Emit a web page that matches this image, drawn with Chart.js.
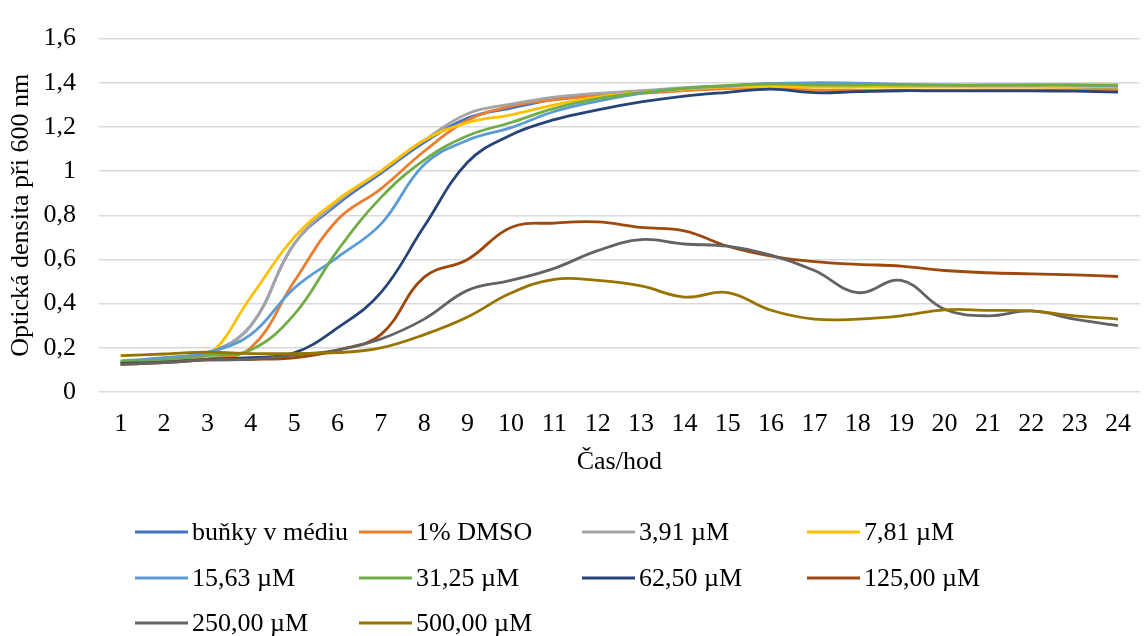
<!DOCTYPE html>
<html lang="cs">
<head>
<meta charset="utf-8">
<title>Růstové křivky</title>
<script src="https://cdn.jsdelivr.net/npm/chart.js@4.4.1/dist/chart.umd.min.js"></script>
<style>
  html, body { margin: 0; padding: 0; background: #ffffff; }
  #wrap { width: 1148px; height: 636px; }
</style>
</head>
<body>
<div id="wrap"><canvas id="growth" width="1148" height="636"></canvas></div>
<script>
// Hodiny měření
const hours = ['1','2','3','4','5','6','7','8','9','10','11','12','13','14','15','16','17','18','19','20','21','22','23','24'];

// Optická densita (OD600) pro jednotlivé podmínky
const cellsInMedium = [0.135,0.150,0.175,0.300,0.670,0.850,0.990,1.130,1.240,1.285,1.325,1.345,1.360,1.375,1.385,1.395,1.393,1.395,1.385,1.383,1.382,1.382,1.380,1.375];
const dmso1 = [0.130,0.140,0.150,0.200,0.500,0.780,0.920,1.090,1.230,1.294,1.323,1.342,1.352,1.364,1.374,1.375,1.367,1.366,1.365,1.365,1.365,1.366,1.367,1.367];
const c3_91 = [0.130,0.145,0.170,0.300,0.670,0.860,1.000,1.140,1.260,1.303,1.335,1.352,1.364,1.378,1.385,1.390,1.390,1.390,1.385,1.385,1.385,1.385,1.383,1.380];
const c7_81 = [0.135,0.145,0.165,0.430,0.700,0.870,1.000,1.140,1.220,1.255,1.300,1.335,1.357,1.371,1.380,1.383,1.380,1.380,1.380,1.380,1.380,1.380,1.380,1.380];
const c15_63 = [0.140,0.155,0.180,0.260,0.470,0.610,0.760,1.030,1.140,1.197,1.270,1.317,1.352,1.375,1.385,1.397,1.400,1.398,1.393,1.390,1.390,1.390,1.390,1.385];
const c31_25 = [0.140,0.145,0.165,0.190,0.350,0.640,0.880,1.050,1.160,1.220,1.284,1.328,1.355,1.375,1.388,1.395,1.390,1.390,1.390,1.389,1.389,1.390,1.390,1.390];
const c62_50 = [0.130,0.135,0.148,0.155,0.177,0.290,0.450,0.750,1.040,1.164,1.233,1.277,1.313,1.340,1.357,1.371,1.355,1.360,1.364,1.363,1.363,1.363,1.362,1.358];
const c125 = [0.125,0.133,0.145,0.148,0.155,0.190,0.260,0.520,0.600,0.745,0.765,0.770,0.745,0.730,0.660,0.615,0.590,0.578,0.570,0.550,0.540,0.535,0.530,0.523];
const c250 = [0.125,0.133,0.145,0.148,0.168,0.190,0.240,0.330,0.460,0.505,0.560,0.640,0.690,0.670,0.660,0.620,0.550,0.450,0.505,0.375,0.345,0.367,0.330,0.300];
const c500 = [0.165,0.172,0.180,0.174,0.174,0.178,0.200,0.260,0.340,0.448,0.510,0.505,0.480,0.430,0.450,0.370,0.330,0.330,0.345,0.372,0.370,0.367,0.345,0.330];

const seriesLabels = ['buňky v médiu','1% DMSO','3,91 µM','7,81 µM','15,63 µM','31,25 µM','62,50 µM','125,00 µM','250,00 µM','500,00 µM'];
const seriesValues = [cellsInMedium, dmso1, c3_91, c7_81, c15_63, c31_25, c62_50, c125, c250, c500];
const seriesColors = ['#4472C4','#ED7D31','#A5A5A5','#FFC000','#5B9BD5','#70AD47','#264478','#9E480E','#636363','#997300'];

const yTicks = [0, 0.2, 0.4, 0.6, 0.8, 1, 1.2, 1.4, 1.6];

const FONT = '"Liberation Serif", "Times New Roman", serif';
const TEXT = '#000000';

// Legenda ve čtyřech sloupcích pod grafem
const gridLegend = {
  id: 'gridLegend',
  afterDraw(chart) {
    const ctx = chart.ctx;
    const colX = [135, 359, 582, 807];
    const rowY = [532, 578, 623];
    ctx.save();
    ctx.font = '26px ' + FONT;
    ctx.textBaseline = 'middle';
    ctx.textAlign = 'left';
    chart.data.datasets.forEach((ds, i) => {
      const x = colX[i % 4];
      const y = rowY[Math.floor(i / 4)];
      ctx.strokeStyle = ds.borderColor;
      ctx.lineWidth = 3;
      ctx.beginPath();
      ctx.moveTo(x, y);
      ctx.lineTo(x + 53, y);
      ctx.stroke();
      ctx.fillStyle = TEXT;
      ctx.fillText(ds.label, x + 57, y + 1);
    });
    ctx.restore();
  }
};

const datasets = seriesLabels.map((label, i) => ({
  label,
  data: seriesValues[i],
  borderColor: seriesColors[i],
  backgroundColor: seriesColors[i],
  borderWidth: 2.8,
  pointRadius: 0,
  pointHoverRadius: 0,
  tension: 0.4,
  fill: false,
  order: seriesLabels.length - i
}));

new Chart(document.getElementById('growth'), {
  type: 'line',
  data: { labels: hours, datasets },
  options: {
    responsive: false,
    animation: false,
    devicePixelRatio: 1,
    layout: { padding: { top: 21, bottom: 154, left: 0, right: 0 } },
    plugins: {
      legend: { display: false },
      tooltip: { enabled: false }
    },
    scales: {
      x: {
        type: 'category',
        offset: true,
        grid: { display: false, drawTicks: false },
        border: { display: false },
        ticks: {
          color: TEXT,
          font: { family: FONT, size: 26 },
          padding: 17,
          maxRotation: 0,
          autoSkip: false
        },
        title: {
          display: true,
          text: 'Čas/hod',
          color: TEXT,
          font: { family: FONT, size: 26 },
          padding: { top: 0, bottom: 4 }
        },
        afterFit(scale) { scale.height = 90; }
      },
      y: {
        min: 0,
        max: 1.6,
        grid: { color: '#D9D9D9', lineWidth: 1.5, drawTicks: false },
        border: { display: false },
        afterBuildTicks(scale) { scale.ticks = yTicks.map(v => ({ value: v })); },
        ticks: {
          color: TEXT,
          font: { family: FONT, size: 26 },
          padding: 23,
          callback: (v) => String(Number(v.toFixed(1))).replace('.', ',')
        },
        title: {
          display: true,
          text: 'Optická densita při 600 nm',
          color: TEXT,
          font: { family: FONT, size: 26 },
          padding: { top: 6, bottom: 0 }
        },
        afterFit(scale) { scale.width = 99; }
      }
    }
  },
  plugins: [gridLegend]
});
</script>
</body>
</html>
